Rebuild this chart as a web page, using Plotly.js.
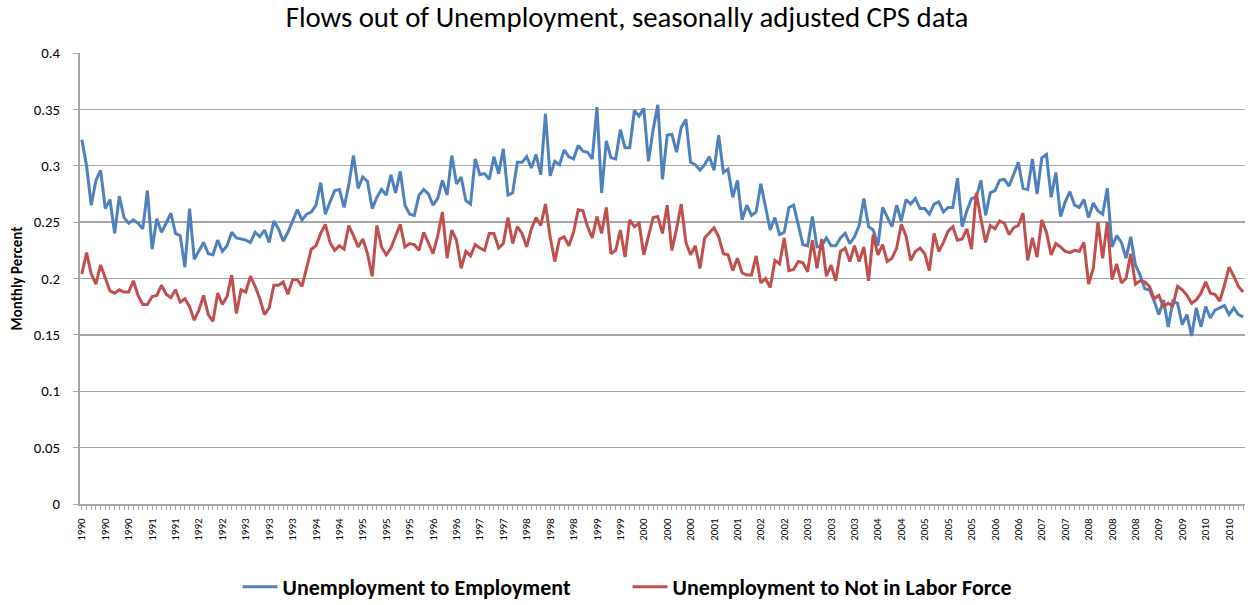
<!DOCTYPE html>
<html>
<head>
<meta charset="utf-8">
<script src="https://cdn.plot.ly/plotly-3.0.1.min.js"></script>
<style>
html,body{margin:0;padding:0;background:#fff;}
#chart{width:1254px;height:605px;}
</style>
</head>
<body>
<div id="chart"></div>
<script>
// Tick labels shown every 5th month
var tickYears = [1990,1990,1990,1991,1991,1992,1992,1993,1993,1993,
  1994,1994,1995,1995,1995,1996,1996,1997,1997,1998,
  1998,1998,1999,1999,2000,2000,2000,2001,2001,2002,
  2002,2003,2003,2003,2004,2004,2005,2005,2005,2006,
  2006,2007,2007,2008,2008,2008,2009,2009,2010,2010];

// Unemployment to Employment (monthly)
var uToE = [
  0.323,0.300,0.265,0.287,0.296,0.262,0.270,0.240,0.273,0.254,0.249,0.252,0.249,0.244,0.278,0.226,0.253,0.241,0.249,0.258,0.240,0.238,0.210,0.262,0.217,0.224,0.232,0.222,0.221,0.234,0.224,0.229,0.241,0.236,0.235,0.234,
  0.232,0.241,0.237,0.243,0.232,0.251,0.244,0.233,0.241,0.251,0.261,0.252,0.257,0.259,0.265,0.285,0.257,0.268,0.278,0.279,0.263,0.283,0.309,0.280,0.290,0.286,0.262,0.272,0.279,0.274,0.292,0.276,0.295,0.265,0.257,
  0.256,0.274,0.279,0.275,0.265,0.271,0.287,0.274,0.309,0.284,0.290,0.269,0.266,0.306,0.292,0.293,0.288,0.308,0.293,0.315,0.274,0.276,0.303,0.303,0.308,0.298,0.310,0.292,0.346,0.291,0.304,0.301,0.314,0.308,0.306,0.318,
  0.313,0.312,0.306,0.352,0.276,0.322,0.307,0.306,0.332,0.316,0.316,0.349,0.344,0.351,0.304,0.332,0.354,0.288,0.327,0.328,0.312,0.334,0.341,0.303,0.301,0.296,0.301,0.308,0.296,0.327,0.294,0.297,0.272,0.287,0.252,
  0.265,0.256,0.259,0.284,0.265,0.243,0.254,0.239,0.241,0.263,0.265,0.247,0.230,0.229,0.255,0.228,0.229,0.236,0.229,0.229,0.236,0.240,0.231,0.237,0.247,0.271,0.246,0.243,0.229,0.263,0.254,0.246,0.265,0.251,0.270,0.266,
  0.271,0.262,0.262,0.257,0.266,0.268,0.259,0.263,0.263,0.289,0.246,0.260,0.271,0.272,0.287,0.256,0.276,0.278,0.287,0.288,0.282,0.293,0.303,0.280,0.279,0.306,0.275,0.307,0.310,0.272,0.294,0.255,0.268,0.277,0.265,
  0.263,0.270,0.254,0.267,0.260,0.257,0.280,0.228,0.238,0.232,0.218,0.237,0.212,0.203,0.191,0.190,0.180,0.168,0.181,0.157,0.180,0.178,0.159,0.168,0.149,0.174,0.157,0.175,0.165,0.172,0.174,0.176,0.168,0.174,0.168,0.166
];

// Unemployment to Not in Labor Force (monthly)
var uToN = [
  0.204,0.223,0.204,0.195,0.212,0.201,0.189,0.187,0.190,0.188,0.188,0.198,0.185,0.177,0.177,0.184,0.185,0.194,0.186,0.183,0.190,0.179,0.182,0.175,0.163,0.172,0.185,0.168,0.162,0.187,0.177,0.184,0.203,0.169,0.190,0.188,
  0.202,0.193,0.182,0.168,0.174,0.194,0.194,0.197,0.186,0.199,0.199,0.193,0.209,0.226,0.229,0.240,0.248,0.232,0.225,0.229,0.226,0.247,0.238,0.228,0.235,0.222,0.202,0.247,0.228,0.221,0.227,0.238,0.248,0.228,0.231,
  0.230,0.225,0.241,0.231,0.222,0.238,0.259,0.218,0.243,0.234,0.209,0.224,0.220,0.230,0.227,0.225,0.240,0.240,0.227,0.231,0.254,0.231,0.246,0.240,0.228,0.244,0.254,0.247,0.266,0.237,0.215,0.235,0.237,0.229,0.241,0.261,
  0.260,0.246,0.236,0.255,0.240,0.263,0.222,0.225,0.243,0.219,0.252,0.246,0.249,0.221,0.238,0.254,0.255,0.240,0.265,0.225,0.244,0.266,0.232,0.221,0.229,0.209,0.236,0.241,0.245,0.237,0.222,0.221,0.207,0.218,0.205,
  0.203,0.203,0.220,0.196,0.200,0.192,0.216,0.213,0.236,0.207,0.208,0.215,0.214,0.206,0.234,0.209,0.235,0.202,0.212,0.198,0.224,0.227,0.215,0.229,0.215,0.228,0.198,0.239,0.221,0.230,0.215,0.218,0.227,0.248,0.238,0.216,
  0.224,0.227,0.222,0.207,0.240,0.224,0.232,0.242,0.246,0.234,0.235,0.244,0.226,0.276,0.253,0.232,0.247,0.244,0.251,0.249,0.239,0.245,0.247,0.258,0.216,0.236,0.219,0.252,0.241,0.221,0.231,0.228,0.224,0.223,0.225,
  0.224,0.232,0.195,0.209,0.250,0.218,0.250,0.199,0.213,0.196,0.200,0.222,0.195,0.198,0.197,0.193,0.182,0.185,0.175,0.178,0.176,0.193,0.190,0.185,0.178,0.181,0.187,0.197,0.187,0.186,0.180,0.194,0.210,0.202,0.193,0.188
];

var labelEvery = 5;
var idx = uToE.map(function(_, i){ return i; });
var tickText = idx.map(function(i){ return (i % labelEvery === 0) ? String(tickYears[i / labelEvery]) : ''; });

var FONT = 'Carlito, Lato, "Liberation Sans", sans-serif';
var GRID = '#a6a6a6';

var traces = [
  {x: idx, y: uToE, type: 'scatter', mode: 'lines', name: '<b>Unemployment to Employment</b>',
   line: {color: '#4F81BD', width: 3}},
  {x: idx, y: uToN, type: 'scatter', mode: 'lines', name: '<b>Unemployment to Not in Labor Force</b>',
   line: {color: '#C0504D', width: 3}}
];

var layout = {
  width: 1254, height: 605,
  paper_bgcolor: '#fff', plot_bgcolor: '#fff',
  font: {family: FONT, color: '#000'},
  margin: {l: 80, r: 9, t: 53, b: 101},
  title: {text: 'Flows out of Unemployment, seasonally adjusted CPS data',
          font: {family: FONT, size: 28.8, color: '#000'}, x: 0.5, xanchor: 'center', y: 0.972, yanchor: 'middle'},
  xaxis: {
    automargin: false,
    range: [-0.4, idx.length - 1 + 0.4],
    tickmode: 'array', tickvals: idx, ticktext: tickText,
    tickangle: -90, ticks: 'outside', ticklen: 4, tickcolor: GRID, tickwidth: 1,
    ticklabelstandoff: 4,
    tickfont: {family: FONT, size: 11, color: '#000'},
    showgrid: false, zeroline: false,
    showline: true, linecolor: GRID, linewidth: 2, fixedrange: true
  },
  yaxis: {
    automargin: false,
    range: [0, 0.4], dtick: 0.05, tick0: 0,
    showgrid: true, gridcolor: GRID, gridwidth: 1.3,
    zeroline: false, showline: true, linecolor: GRID, linewidth: 2,
    ticks: 'outside', ticklen: 5, tickcolor: GRID,
    ticklabelstandoff: 10,
    tickfont: {family: FONT, size: 14.8, color: '#000'},
    title: {text: '<b>Monthly Percent</b>', font: {family: FONT, size: 15, color: '#000'}, standoff: 8},
    fixedrange: true
  },
  showlegend: true,
  legend: {orientation: 'h', xref: 'paper', x: 0.470, xanchor: 'center',
           yref: 'container', y: 0.03, yanchor: 'middle',
           font: {family: FONT, size: 22, color: '#000'},
           entrywidth: 340, entrywidthmode: 'pixels',
           itemwidth: 35, tracegroupgap: 0}
};

Plotly.newPlot('chart', traces, layout, {displayModeBar: false, staticPlot: true});
</script>
</body>
</html>
